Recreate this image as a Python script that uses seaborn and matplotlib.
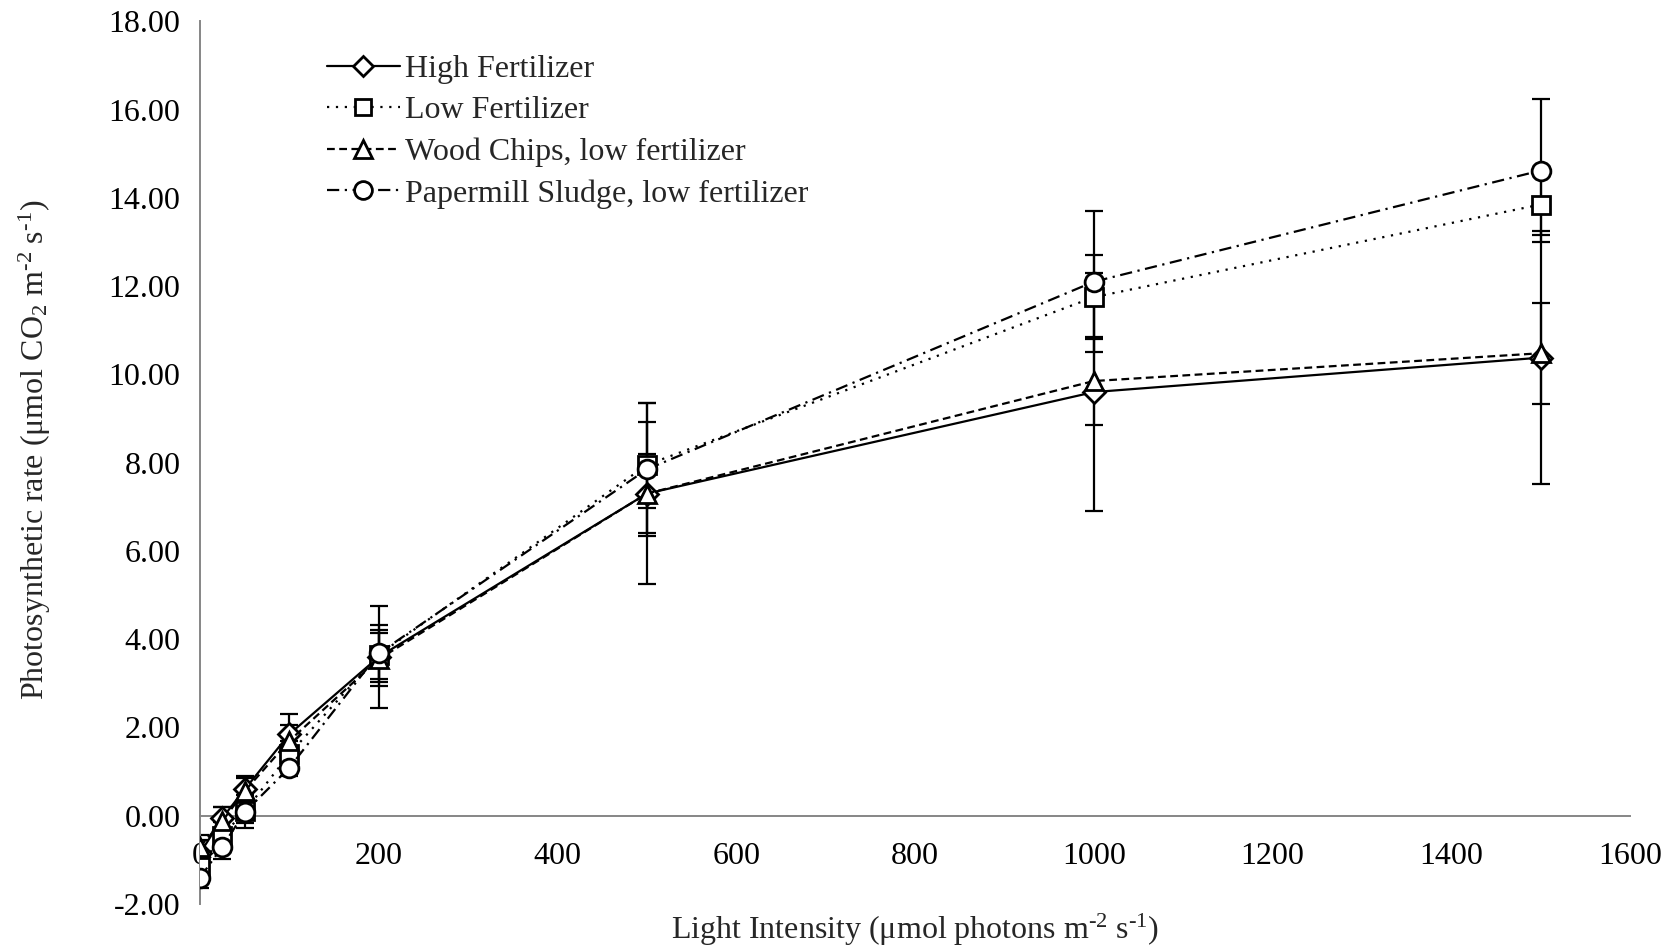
import numpy as np
import pandas as pd
import matplotlib
matplotlib.use("Agg")
import matplotlib.pyplot as plt
from matplotlib.lines import Line2D
from matplotlib.ticker import FormatStrFormatter, MultipleLocator
import seaborn as sns

# Light response curves: net photosynthetic rate per treatment
light = [0, 25, 50, 100, 200, 500, 1000, 1500]

treatments = [
    "High Fertilizer",
    "Low Fertilizer",
    "Wood Chips, low fertilizer",
    "Papermill Sludge, low fertilizer",
]

high_fert = [-0.85, -0.05, 0.60, 1.85, 3.60, 7.30, 9.60, 10.38]
low_fert = [-1.15, -0.45, 0.10, 1.40, 3.65, 7.95, 11.75, 13.85]
wood_chips = [-0.70, -0.12, 0.56, 1.70, 3.55, 7.30, 9.85, 10.48]
papermill = [-1.40, -0.70, 0.08, 1.09, 3.68, 7.85, 12.10, 14.62]

high_err = [0.30, 0.25, 0.30, 0.45, 1.15, 2.06, 2.70, 2.86]
low_err = [0.25, 0.30, 0.37, 0.30, 0.55, 0.98, 0.95, 0.70]
wood_err = [0.27, 0.32, 0.30, 0.35, 0.60, 0.90, 1.00, 1.14]
papermill_err = [0.23, 0.27, 0.25, 0.20, 0.65, 1.50, 1.60, 1.63]

means = [high_fert, low_fert, wood_chips, papermill]
errors = [high_err, low_err, wood_err, papermill_err]

df = pd.DataFrame({
    "light": np.tile(light, len(treatments)),
    "rate": np.concatenate(means),
    "err": np.concatenate(errors),
    "treatment": np.repeat(treatments, len(light)),
})

marker_map = dict(zip(treatments, ["D", "s", "^", "o"]))
dash_map = dict(zip(treatments, ["", (1, 3), (3.5, 2), (5.5, 2.5, 1, 2.5)]))
marker_size = dict(zip(treatments, [11, 12.5, 13, 13.5]))

sns.set_theme(style="white")
plt.rcParams["font.family"] = ["Liberation Serif", "DejaVu Serif"]
plt.rcParams["mathtext.fontset"] = "custom"
plt.rcParams["mathtext.rm"] = "Liberation Serif"
plt.rcParams["mathtext.it"] = "Liberation Serif:italic"

FS = 23
HY = "\u2010"  # short hyphen for the unit exponents

fig = plt.figure(figsize=(16.81, 9.49), dpi=100)
ax = fig.add_axes([0.119, 0.0474, 0.8507, 0.9301])

# Error bars underneath the markers
for t in treatments:
    sub = df[df["treatment"] == t]
    ax.errorbar(sub["light"], sub["rate"], yerr=sub["err"], fmt="none",
                ecolor="black", elinewidth=1.6, capsize=6.5, capthick=1.6,
                zorder=2)

sns.lineplot(data=df, x="light", y="rate", style="treatment",
             style_order=treatments, markers=marker_map, dashes=dash_map,
             color="black", linewidth=1.6, legend=False, sort=True, ax=ax,
             zorder=3)

for line, t in zip(ax.lines[-len(treatments):], treatments):
    line.set_markerfacecolor("white")
    line.set_markeredgecolor("black")
    line.set_markeredgewidth(2.0)
    line.set_markersize(marker_size[t])

handles = [
    Line2D([], [], color="black", linewidth=1.6, marker=marker_map[t],
           markersize=marker_size[t] * 0.95, markerfacecolor="white",
           markeredgecolor="black", markeredgewidth=2.0,
           linestyle="-" if dash_map[t] == "" else (0, dash_map[t]))
    for t in treatments
]
ax.legend(handles, treatments, loc="upper left", bbox_to_anchor=(0.0795, 0.977),
          frameon=False, fontsize=FS, handlelength=2.3, handletextpad=0.15,
          labelspacing=0.38, borderaxespad=0)

ax.set_xlim(0, 1600)
ax.set_ylim(-2, 18)
ax.xaxis.set_major_locator(MultipleLocator(200))
ax.yaxis.set_major_locator(MultipleLocator(2))
ax.yaxis.set_major_formatter(FormatStrFormatter("%.2f"))

axis_grey = "#868686"
for side in ["top", "right"]:
    ax.spines[side].set_visible(False)
ax.spines["bottom"].set_position(("data", 0))
for side in ["left", "bottom"]:
    ax.spines[side].set_color(axis_grey)
    ax.spines[side].set_linewidth(1.4)

ax.tick_params(axis="both", which="major", direction="out", length=7,
               width=1.4, color=axis_grey, labelsize=FS, labelcolor="black")
ax.tick_params(axis="x", pad=12)
ax.tick_params(axis="y", pad=7)

ax.set_xlabel("Light Intensity (μmol photons m$^{\\mathregular{" + HY + "2}}$ s$^{\\mathregular{"
              + HY + "1}}$)", fontsize=FS)
ax.xaxis.set_label_coords(0.5, -0.009)
ax.set_ylabel("Photosynthetic rate (μmol CO$_{\\mathregular{2}}$ m$^{\\mathregular{" + HY
              + "2}}$ s$^{\\mathregular{" + HY + "1}}$)", fontsize=FS)
ax.yaxis.set_label_coords(-0.103, 0.515)

fig.savefig("out.png", dpi=100, facecolor="white")
